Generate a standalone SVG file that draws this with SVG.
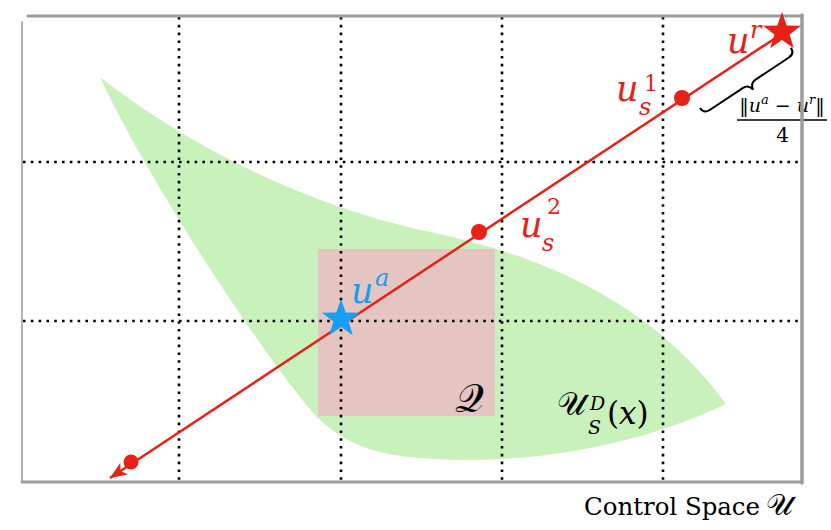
<svg xmlns="http://www.w3.org/2000/svg" width="831" height="530" viewBox="0 0 831 530">
<style>
.grid{stroke:#000;stroke-width:2.6;stroke-dasharray:2.6 5.2;fill:none}
.frame{stroke:#9c9c9c;fill:none;stroke-linecap:round}
.m{font-style:italic}
.red{fill:#e62117}
.blue{fill:#169ff0}
.blk{fill:#000}
</style>
<defs>
<path id="star" d="M0,-20 L4.7,-6.47 L19.02,-6.18 L7.61,2.47 L11.76,16.18 L0,8 L-11.76,16.18 L-7.61,2.47 L-19.02,-6.18 L-4.7,-6.47 Z"/>
<marker id="arrow" markerUnits="userSpaceOnUse" markerWidth="20" markerHeight="16" refX="17" refY="7" orient="auto" viewBox="0 0 20 16">
<path d="M0,0 L17,7 L0,14 L4.5,7 Z" fill="#e62117"/>
</marker>
</defs>
<rect width="831" height="530" fill="#fff"/>
<g id="region-U">
<path d="M100,77 C180,140 300,205 430,232 C540,255 650,300 726,404 C640,445 520,470 400,456 C360,450 335,435 317,417 C265,360 145,175 100,77 Z" fill="#c9f1bb"/>
</g>
<g id="region-Q">
<rect x="318" y="249" width="177" height="167" fill="#e4c5c1"/>
</g>
<g id="grid">
<line class="grid" x1="179" y1="17" x2="179" y2="481"/>
<line class="grid" x1="341" y1="17" x2="341" y2="481"/>
<line class="grid" x1="502" y1="17" x2="502" y2="481"/>
<line class="grid" x1="663" y1="17" x2="663" y2="481"/>
<line class="grid" x1="23" y1="162" x2="802" y2="162"/>
<line class="grid" x1="23" y1="321" x2="802" y2="321"/>
</g>
<g id="distance-label">
<path d="M0,0 Q0,7 7,7 L47,7 Q53.5,7 54.5,14 Q55.5,7 62,7 L102,7 Q109,7 109,0" fill="none" stroke="#000" stroke-width="2" transform="translate(700,108) rotate(-33.5)"/>
<text x="782" y="112" font-size="19" text-anchor="middle" font-family="DejaVu Serif">‖<tspan class="m">u</tspan><tspan class="m" font-size="13" dy="-8">a</tspan><tspan dy="8"> − </tspan><tspan class="m">u</tspan><tspan class="m" font-size="13" dy="-8">r</tspan><tspan dy="8">‖</tspan></text>
<line x1="737" y1="120" x2="827" y2="120" stroke="#000" stroke-width="1.3"/>
<text x="782.5" y="142" font-size="20" text-anchor="middle" font-family="DejaVu Serif">4</text>
</g>
<g id="frame">
<line class="frame" x1="28" y1="16" x2="802" y2="16" stroke-width="3"/>
<line class="frame" x1="22" y1="22" x2="22" y2="482" stroke-width="1.6"/>
<line class="frame" x1="802" y1="15" x2="802" y2="483" stroke-width="3.5"/>
<line class="frame" x1="22" y1="482" x2="802" y2="482" stroke-width="3"/>
</g>
<g id="connectors">
<line x1="783" y1="33" x2="110" y2="478" stroke="#e62117" stroke-width="2.5" marker-end="url(#arrow)"/>
</g>
<g id="node-us1"><circle class="red" cx="682" cy="98" r="8"/></g>
<g id="node-us2"><circle class="red" cx="479" cy="232" r="8"/></g>
<g id="node-end"><circle class="red" cx="131" cy="462" r="7.5"/></g>
<g id="node-ur"><use href="#star" class="red" transform="translate(782,32)"/></g>
<g id="node-ua"><use href="#star" class="blue" transform="translate(341,319)"/></g>
<g id="labels" font-family="DejaVu Serif">
<text class="m red" x="727" y="53" font-size="35" font-family="DejaVu Serif">u</text>
<text class="m red" x="750" y="38" font-size="24" font-family="DejaVu Serif">r</text>
<text class="m red" x="616" y="101" font-size="35" font-family="DejaVu Serif">u</text>
<text class="m red" x="639" y="115" font-size="24" font-family="DejaVu Serif">s</text>
<text class="red" x="644" y="91" font-size="22" font-family="DejaVu Serif">1</text>
<text class="m red" x="520" y="237" font-size="35" font-family="DejaVu Serif">u</text>
<text class="m red" x="542" y="251" font-size="24" font-family="DejaVu Serif">s</text>
<text class="red" x="547" y="214" font-size="22" font-family="DejaVu Serif">2</text>
<text class="m blue" x="351" y="303" font-size="35" font-family="DejaVu Serif">u</text>
<text class="m blue" x="375" y="286" font-size="24" font-family="DejaVu Serif">a</text>
<text class="blk" x="455" y="412" font-size="40" font-family="DejaVu Serif">𝒬</text>
<text class="blk" x="557" y="415" font-size="32" font-family="DejaVu Serif">𝒰</text>
<text class="m blk" x="590" y="410" font-size="19" font-family="DejaVu Serif">D</text>
<text class="m blk" x="588" y="434" font-size="19" font-family="DejaVu Serif">S</text>
<text class="blk" x="607" y="424" font-size="31" font-family="DejaVu Serif">(<tspan class="m">x</tspan>)</text>
<text class="blk" x="584" y="515" font-size="25" font-family="DejaVu Serif" textLength="176" lengthAdjust="spacingAndGlyphs">Control Space</text>
<text class="blk" x="766" y="515" font-size="30" font-family="DejaVu Serif">𝒰</text>
</g>
</svg>
